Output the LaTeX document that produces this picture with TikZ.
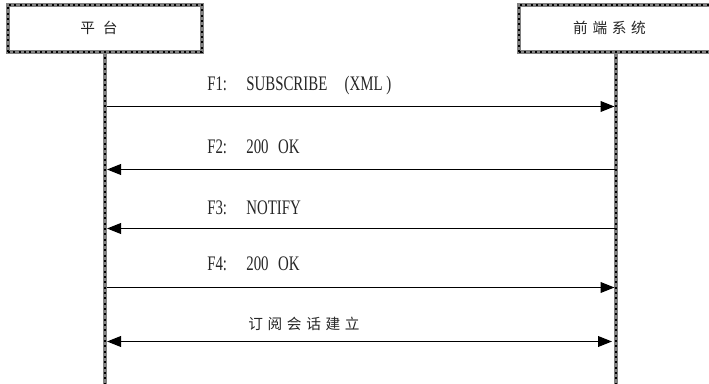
\documentclass[tikz,border=0pt]{standalone}
\usepackage{fontspec}
\setmainfont{Liberation Serif}
\newfontfamily\cjk{Noto Sans CJK SC}
\usetikzlibrary{arrows.meta}
\newcommand{\lat}[1]{\scalebox{0.72}[1]{\fontsize{15.5pt}{16pt}\selectfont #1}}
\newcommand{\hz}[1]{{\cjk\fontsize{11pt}{12pt}\selectfont #1}}
\begin{document}
\begin{tikzpicture}[x=0.75pt,y=-0.75pt,
  texture/.style={draw=black!50, line width=3.3pt,
    postaction={draw=black, line width=1.8pt, dash pattern=on 1.5pt off 2.5pt}},
  actor/.style={texture, fill=white, minimum width=145.5pt, minimum height=35.25pt,
    inner sep=0pt, outer sep=0pt},
  lifeline/.style={draw=black!50, line width=3.3pt,
    postaction={draw=black, line width=1.8pt, dash pattern=on 1.5pt off 2.5pt}},
  msg/.style={draw=black, line width=1.3pt, -{Triangle[length=10.5pt,width=8pt]}},
  both/.style={draw=black, line width=1.3pt, {Triangle[length=10.5pt,width=8pt]}-{Triangle[length=10.5pt,width=8pt]}},
  lbl/.style={anchor=west, inner sep=0pt, text=black!85}]
\useasboundingbox (0,0) rectangle (709,383);
\begin{scope}
\clip (0,0) rectangle (709,383);
% lifelines
\coordinate (Ltop) at (105,52);
\coordinate (Lbot) at (105,390);
\coordinate (Rtop) at (616,52);
\coordinate (Rbot) at (616,390);
\draw[lifeline] (Ltop) -- (Lbot);
\draw[lifeline] (Rtop) -- (Rbot);
% actors
\node[actor] (plat) at (105,28.5) {};
\node[actor] (front) at (616,28.5) {};
\node[inner sep=0pt, text=black!85] (platlbl) at (99,28) {\hz{平\hspace{6pt}台}};
\node[inner sep=0pt, text=black!85] (frontlbl) at (609.5,28) {\hz{前\hspace{3.5pt}端\hspace{3.5pt}系\hspace{3.5pt}统}};
\end{scope}
% message anchors
\coordinate (L1) at (107,106.5); \coordinate (R1) at (614.5,106.5);
\coordinate (L2) at (107,169.5); \coordinate (R2) at (614.5,169.5);
\coordinate (L3) at (107,228.5); \coordinate (R3) at (614.5,228.5);
\coordinate (L4) at (107,287.5); \coordinate (R4) at (614.5,287.5);
\coordinate (L5) at (107,341.5); \coordinate (R5) at (612,341.5);
\draw[msg] (L1) -- (R1);
\draw[msg] (R2) -- (L2);
\draw[msg] (R3) -- (L3);
\draw[msg] (L4) -- (R4);
\draw[both] (L5) -- (R5);
% labels
\node[lbl] (t1) at (207,86) {\lat{F1:\hspace{20pt}SUBSCRIBE\hspace{18pt}(XML\hspace{4pt})}};
\node[lbl] (t2) at (207,147) {\lat{F2:\hspace{20pt}200\hspace{10pt}OK}};
\node[lbl] (t3) at (207,208) {\lat{F3:\hspace{20pt}NOTIFY}};
\node[lbl] (t4) at (207,264) {\lat{F4:\hspace{20pt}200\hspace{10pt}OK}};
\node[lbl] (t5) at (248,324) {\hz{订\hspace{3.5pt}阅\hspace{3.5pt}会\hspace{3.5pt}话\hspace{3.5pt}建\hspace{3.5pt}立}};
\end{tikzpicture}
\end{document}
